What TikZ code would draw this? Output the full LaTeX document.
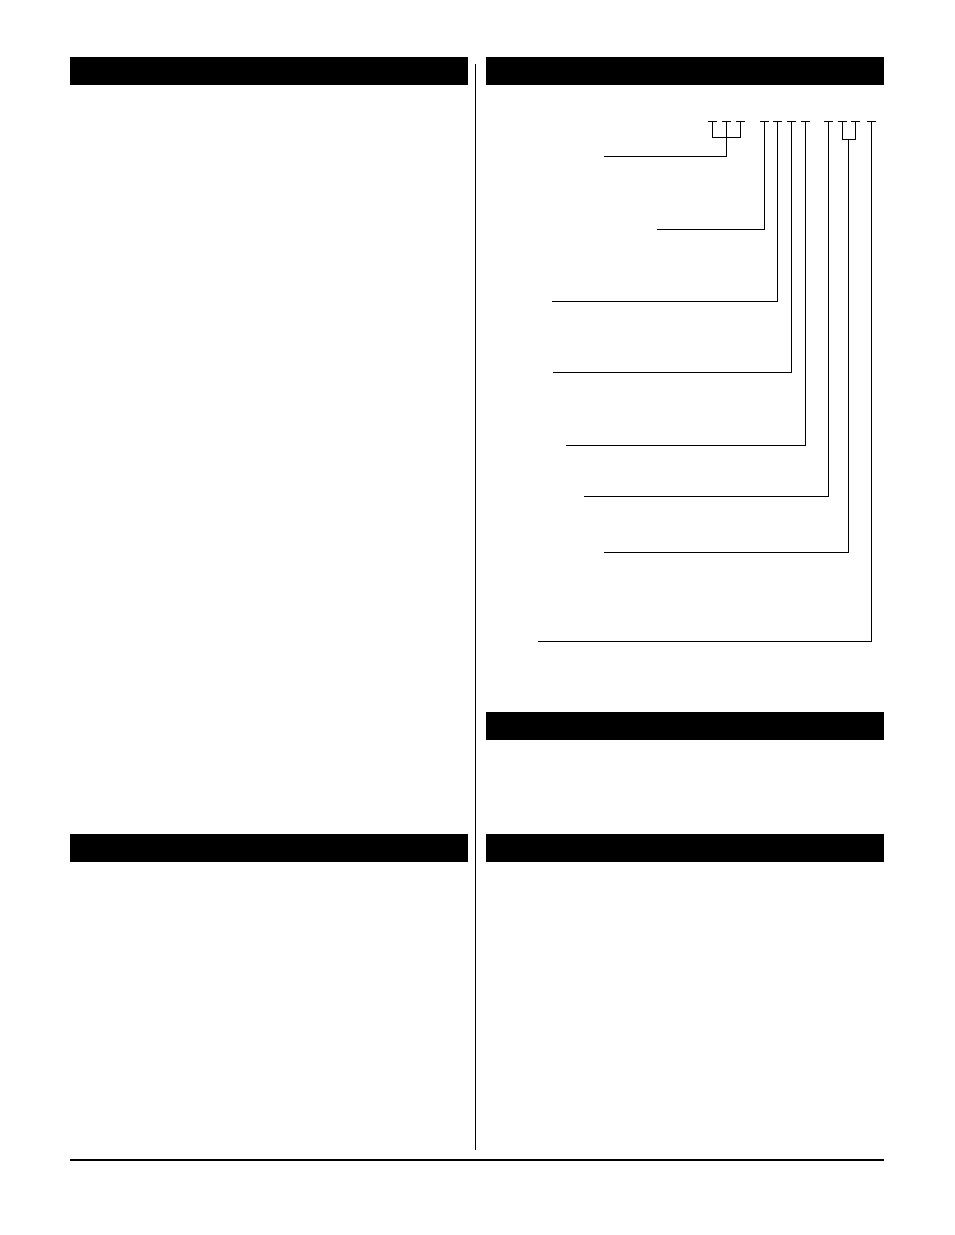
\documentclass[tikz,border=0pt]{standalone}
\usepackage{tikz}
\usetikzlibrary{shapes}
\newcommand{\codeslot}[2]{
  \node[slot] (#1) at (#2,121) {};
}
\tikzset{bar/.style   = {fill=black, inner sep=0pt, minimum width=398pt,
                         minimum height=28pt},
         slot/.style  = {fill=black, inner sep=0pt, minimum width=9pt,
                         minimum height=0.9pt},
         leader/.style = {line width=0.9pt}}

\begin{document}
\begin{tikzpicture}[x=1pt, y=-1pt]
  \useasboundingbox[fill=white] (0,0) rectangle (954,1235);
  % section headers
  \node[bar] (hA) at (269,71) {};
  \node[bar] (hB) at (685,71) {};
  \node[bar] (hC) at (685,726) {};
  \node[bar] (hD) at (269,848) {};
  \node[bar] (hE) at (685,848) {};
  % column divider and footer rule
  \coordinate (divT) at (475.5,64);
  \coordinate (divB) at (475.5,1150);
  \draw[line width=1.2pt] (divT) -- (divB);
  \coordinate (ruleL) at (70,1160);
  \coordinate (ruleR) at (884,1160);
  \draw[line width=2pt] (ruleL) -- (ruleR);
  % model code slots
  \codeslot{s1}{712}
  \codeslot{s2}{726}
  \codeslot{s3}{740}
  \codeslot{s4}{764}
  \codeslot{s5}{777}
  \codeslot{s6}{791}
  \codeslot{s7}{805}
  \codeslot{s8}{828}
  \codeslot{s9}{842}
  \codeslot{s10}{855}
  \codeslot{s11}{871.5}
  % label ends
  \coordinate (l1) at (604,156.7);
  \coordinate (l2) at (657,229.7);
  \coordinate (l3) at (552,301);
  \coordinate (l4) at (553,372.3);
  \coordinate (l5) at (566,445.3);
  \coordinate (l6) at (584,496.8);
  \coordinate (l7) at (604,552);
  \coordinate (l8) at (538,641);
  \coordinate (m1) at (848.5,139);
  % leaders
  \draw[leader] (s1.center) -- ++(0,16) -| (s3.center);
  \draw[leader] (s2.center) |- (l1);
  \draw[leader] (s4.center) |- (l2);
  \draw[leader] (s5.center) |- (l3);
  \draw[leader] (s6.center) |- (l4);
  \draw[leader] (s7.center) |- (l5);
  \draw[leader] (s8.center) |- (l6);
  \draw[leader] (s9.center) -- ++(0,18) -| (s10.center);
  \draw[leader] (m1) |- (l7);
  \draw[leader] (s11.center) |- (l8);
\end{tikzpicture}
\end{document}
